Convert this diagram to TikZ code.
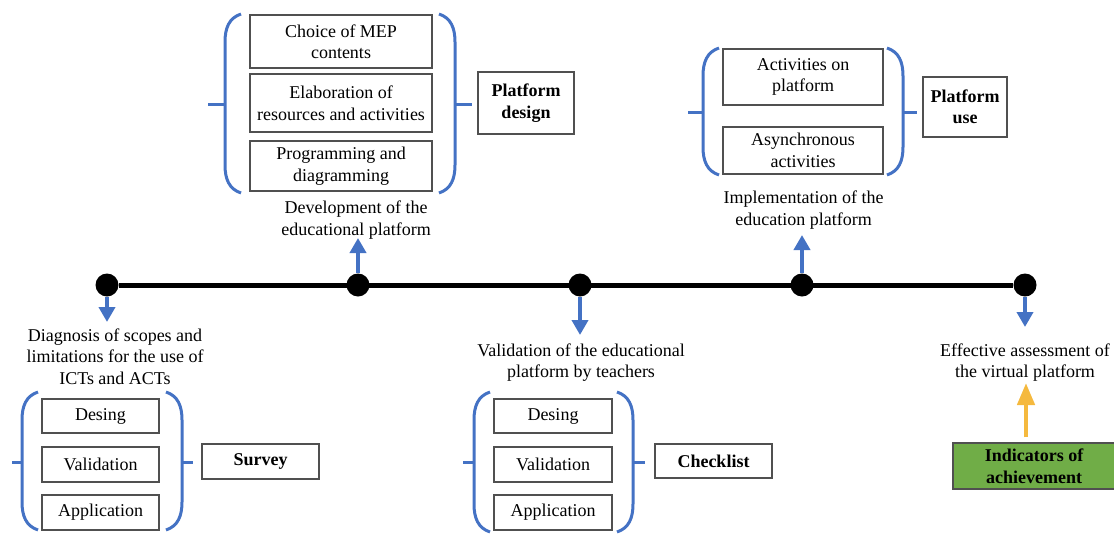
\documentclass[tikz,border=0pt]{standalone}
\usepackage{fontspec}
\setmainfont{Liberation Serif}
\usetikzlibrary{arrows.meta}

\definecolor{lineblue}{HTML}{4472C4}
\definecolor{arrowgold}{HTML}{F5B93E}
\definecolor{boxgreen}{HTML}{70AD47}
\definecolor{boxgray}{HTML}{505050}

% x, top, bottom, middle, direction (1 = opening, -1 = closing), tick length
\newcommand{\sidebrace}[6]{%
  \draw[brace] ({#1+16*(#5)},#2) .. controls ({#1+4*(#5)},#2+4) and (#1,#2+14) .. (#1,#2+28)
    -- (#1,#3-28) .. controls (#1,#3-14) and ({#1+4*(#5)},#3-4) .. ({#1+16*(#5)},#3);
  \draw[brace] (#1,#4) -- ({#1-#6*(#5)},#4);
}

\begin{document}
\begin{tikzpicture}[x=1pt, y=-1pt,
    every node/.style={font=\fontsize{18}{21.5}\selectfont},
    stage/.style={draw=boxgray, line width=1.2pt, align=center, inner sep=0pt},
    tool/.style={stage, font=\fontsize{18}{21.5}\selectfont\bfseries},
    note/.style={align=center, inner sep=0pt},
    dot/.style={circle, fill=black, minimum size=23pt, inner sep=0pt},
    brace/.style={lineblue, line width=3pt},
    flow/.style={lineblue, line width=4pt, -{Triangle[width=16pt,length=15pt]}},
    lift/.style={arrowgold, line width=4.5pt, -{Triangle[width=17pt,length=22pt]}}]
    \useasboundingbox (0,0) rectangle (1114,536);

    % Timeline
    \node[dot] (d1) at (107,285) {};
    \node[dot] (d2) at (358,285) {};
    \node[dot] (d3) at (580,285) {};
    \node[dot] (d4) at (802,285) {};
    \node[dot] (d5) at (1025,285) {};
    \draw[line width=5pt] (d1) -- (d5);

    % Stage labels
    \node[note] (diag) at (115,356.5) {Diagnosis of scopes and\\limitations for the use of\\ICTs and ACTs};
    \node[note] (devel) at (356,220) {Development of the\\educational platform};
    \node[note] (valid) at (581,362.5) {Validation of the educational\\platform by teachers};
    \node[note] (impl) at (803.5,210) {Implementation of the\\education platform};
    \node[note] (eff) at (1025,362.5) {Effective assessment of\\the virtual platform};

    % Arrows from the timeline
    \coordinate (t1) at (107,322);
    \coordinate (t2) at (358,238);
    \coordinate (t3) at (580,335);
    \coordinate (t4) at (802,235);
    \coordinate (t5) at (1025,327);
    \coordinate (t6) at (1026,383);
    \draw[flow] (d1) -- (t1);
    \draw[flow] (d2) -- (t2);
    \draw[flow] (d3) -- (t3);
    \draw[flow] (d4) -- (t4);
    \draw[flow] (d5) -- (t5);

    % Platform design
    \node[stage, minimum width=182pt, minimum height=53pt] (mep) at (341,41.5) {Choice of MEP\\contents};
    \node[stage, minimum width=182pt, minimum height=58pt] (res) at (341,103) {Elaboration of\\resources and activities};
    \node[stage, minimum width=182pt, minimum height=50pt] (prog) at (341,166) {Programming and\\diagramming};
    \node[tool, minimum width=96pt, minimum height=62pt] (design) at (526,103) {Platform\\design};
    \sidebrace{225}{14}{193}{104}{1}{17}
    \sidebrace{455}{14}{193}{104}{-1}{17}

    % Platform use
    \node[stage, minimum width=160pt, minimum height=56pt] (act) at (803,77) {Activities on\\platform};
    \node[stage, minimum width=160pt, minimum height=47pt] (async) at (803,150.5) {Asynchronous\\activities};
    \node[tool, minimum width=84pt, minimum height=60pt] (use) at (965,107) {Platform\\use};
    \sidebrace{703}{48}{175}{112}{1}{15}
    \sidebrace{903}{48}{175}{112}{-1}{14}

    % Survey
    \node[stage, minimum width=117pt, minimum height=34pt] (sdes) at (100.5,416) {Desing};
    \node[stage, minimum width=117pt, minimum height=35pt] (sval) at (100.5,464.5) {Validation};
    \node[stage, minimum width=117pt, minimum height=35pt] (sapp) at (100.5,512.5) {Application};
    \node[tool, minimum width=117pt, minimum height=35pt] (survey) at (260.5,461.5) {Survey};
    \sidebrace{22}{392}{530}{462}{1}{10}
    \sidebrace{182}{392}{530}{462}{-1}{11}

    % Checklist
    \node[stage, minimum width=118pt, minimum height=34pt] (cdes) at (553,416) {Desing};
    \node[stage, minimum width=118pt, minimum height=35pt] (cval) at (553,464.5) {Validation};
    \node[stage, minimum width=118pt, minimum height=35pt] (capp) at (553,512.5) {Application};
    \node[tool, minimum width=117pt, minimum height=34pt] (check) at (713.5,461) {Checklist};
    \sidebrace{474}{392}{532}{462}{1}{11}
    \sidebrace{633}{392}{532}{462}{-1}{12}

    % Indicators
    \node[tool, fill=boxgreen, minimum width=162pt, minimum height=46pt] (ind) at (1034,466) {Indicators of\\achievement};
    \draw[lift, shorten <=5pt] (ind.north -| t6) -- (t6);
\end{tikzpicture}
\end{document}
